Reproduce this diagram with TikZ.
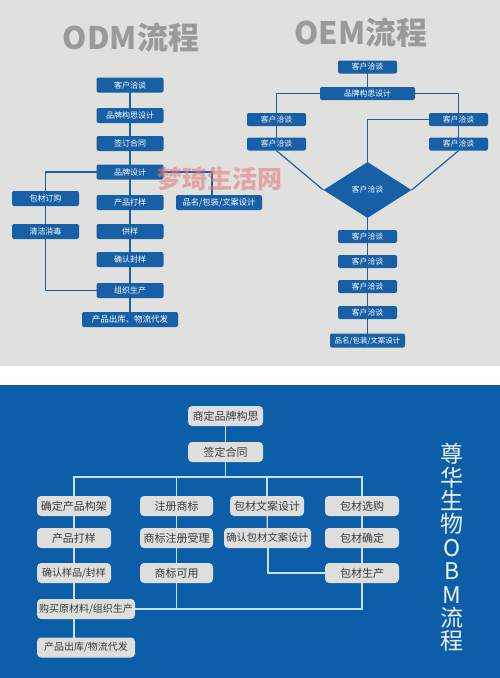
\documentclass[tikz,border=0pt]{standalone}
\usepackage{fontspec}
\setmainfont{Noto Sans CJK SC}
\usetikzlibrary{shapes.geometric}
\pgfdeclarelayer{bglayer}
\pgfdeclarelayer{lines}
\pgfdeclarelayer{wm}
\pgfsetlayers{bglayer,lines,main,wm}
\definecolor{bggray}{HTML}{E0E0DF}
\definecolor{nodeblue}{HTML}{1760A5}
\definecolor{lineblue}{HTML}{1E5FA0}
\definecolor{bgblue}{HTML}{0C5EA8}
\definecolor{boxgray}{HTML}{DEDEDD}
\definecolor{boxtext}{HTML}{3A3A3A}
\definecolor{wire}{HTML}{C4E2F6}
\definecolor{titlegray}{HTML}{9A9A9A}
\definecolor{wmred}{HTML}{E27E7E}
\tikzset{
  bnode/.style={fill=nodeblue, text=white, rounded corners=2pt, inner sep=0pt,
    minimum height=15pt, font=\fontsize{8}{8}\selectfont},
  enode/.style={bnode, minimum height=13pt, font=\fontsize{7.8}{8}\selectfont},
  gnode/.style={fill=boxgray, text=boxtext, rounded corners=4pt, inner sep=0pt,
    minimum height=20pt, font=\fontsize{11}{11}\selectfont},
  tline/.style={draw=lineblue, line width=1.2pt},
  wline/.style={draw=wire, line width=1.3pt},
  ttl/.style={text=titlegray, font=\fontsize{31}{31}\selectfont\bfseries}
}
\begin{document}
\begin{tikzpicture}[x=1pt,y=-1pt]
\useasboundingbox (0,0) rectangle (500,678);
\begin{pgfonlayer}{bglayer}
\fill[bggray] (0,0) rectangle (500,366);
\fill[white] (0,366) rectangle (500,385);
\fill[bgblue] (0,385) rectangle (500,678);
\end{pgfonlayer}

% ---------- ODM ----------
\node[ttl] (odmt) at (131,38) {ODM流程};
\node[bnode, minimum width=67pt] (o1) at (130,85) {客户洽谈};
\node[bnode, minimum width=67pt] (o2) at (130,115.5) {品牌构思设计};
\node[bnode, minimum width=67pt] (o3) at (130,143.5) {签订合同};
\node[bnode, minimum width=67pt] (o4) at (130,172) {品牌设计};
\node[bnode, minimum width=67pt] (pk) at (45.5,198.5) {包材订购};
\node[bnode, minimum width=67pt] (o5) at (130,202.5) {产品打样};
\node[bnode, minimum width=86pt, font=\fontsize{8.3}{8}\selectfont] (pm) at (219,202.5) {品名/包装/文案设计};
\node[bnode, minimum width=67pt] (cl) at (45.5,231.5) {清洁消毒};
\node[bnode, minimum width=67pt] (o6) at (130,231.5) {供样};
\node[bnode, minimum width=67pt] (o7) at (130,259.5) {确认封样};
\node[bnode, minimum width=67pt] (o8) at (130,290.5) {组织生产};
\node[bnode, minimum width=96pt, font=\fontsize{8.5}{8}\selectfont] (o9) at (130,319.5) {产品出库、物流代发};

% ---------- OEM ----------
\node[ttl] (oemt) at (361,33) {OEM流程};
\node[enode, minimum width=59pt] (e1) at (367.5,67) {客户洽谈};
\node[enode, minimum width=95pt] (e2) at (367.5,93.5) {品牌构思设计};
\node[enode, minimum width=59pt] (el1) at (276.5,119.5) {客户洽谈};
\node[enode, minimum width=59pt] (el2) at (276.5,144) {客户洽谈};
\node[enode, minimum width=59pt] (er1) at (458.5,119.5) {客户洽谈};
\node[enode, minimum width=59pt] (er2) at (458.5,144) {客户洽谈};
\node[diamond, fill=nodeblue, text=white, inner sep=0pt, aspect=1.57,
  minimum width=88pt, minimum height=56pt, font=\fontsize{7.8}{8}\selectfont] (dia) at (367.5,190) {客户洽谈};
\node[enode, minimum width=59pt] (e3) at (367.5,236.5) {客户洽谈};
\node[enode, minimum width=59pt] (e4) at (367.5,261.5) {客户洽谈};
\node[enode, minimum width=59pt] (e5) at (367.5,286.5) {客户洽谈};
\node[enode, minimum width=59pt] (e6) at (367.5,312.5) {客户洽谈};
\node[enode, minimum width=75pt, minimum height=14pt, font=\fontsize{7.5}{8}\selectfont] (e7) at (367.5,340.5) {品名/包装/文案设计};

% ---------- OBM ----------
\node[gnode, minimum width=75pt] (b1) at (225.5,416) {商定品牌构思};
\node[gnode, minimum width=75pt] (b2) at (225.5,452) {签定合同};
\coordinate (bus) at (225.5,477);
\node[gnode, minimum width=74pt] (a1) at (74,506) {确定产品构架};
\node[gnode, minimum width=74pt] (a2) at (74,538) {产品打样};
\node[gnode, minimum width=74pt, font=\fontsize{10}{10}\selectfont] (a3) at (74,573) {确认样品/封样};
\node[gnode, minimum width=98pt, font=\fontsize{10}{10}\selectfont] (a4) at (86,609) {购买原材料/组织生产};
\node[gnode, minimum width=98pt, font=\fontsize{10}{10}\selectfont] (a5) at (86,647.5) {产品出库/物流代发};
\node[gnode, minimum width=73pt] (c1) at (176.5,506) {注册商标};
\node[gnode, minimum width=73pt] (c2) at (176.5,538) {商标注册受理};
\node[gnode, minimum width=73pt] (c3) at (176.5,573) {商标可用};
\node[gnode, minimum width=74pt] (d1) at (267,506) {包材文案设计};
\node[gnode, minimum width=87pt, font=\fontsize{10.3}{10}\selectfont] (d2) at (267.5,538) {确认包材文案设计};
\node[gnode, minimum width=74pt] (f1) at (362,506) {包材选购};
\node[gnode, minimum width=74pt] (f2) at (362,538) {包材确定};
\node[gnode, minimum width=74pt] (f3) at (362,573) {包材生产};
\node[text=white!92!bgblue, align=center, inner sep=0pt,
  font=\fontsize{23}{23.4}\selectfont] (vt) at (452,547.5)
  {尊\\华\\生\\物\\O\\B\\M\\流\\程};

% ---------- connectors ----------
\begin{pgfonlayer}{lines}
% ODM
\draw[tline] (o1.center) -- (o9.center);
\draw[tline] (o4.center) -| (pk.center) -- (cl.center) |- (o8.center);
\draw[tline] (o4.center) -| ([xshift=-7pt]pm.center);
% OEM
\draw[tline] (e1.center) -- (e2.center);
\draw[tline] (e2.center) -| (el2.center);
\draw[tline] (e2.center) -| (er2.center);
\draw[tline] (er1.center) -| (dia.center);
\draw[tline] (el2.south) -- (dia.west);
\draw[tline] (er2.south) -- (dia.east);
\draw[tline] (dia.center) -- (e7.center);
% OBM
\draw[wline] (b1.center) -- (bus);
\draw[wline] (a1.north) |- (bus) -| (f1.north);
\draw[wline] (c1.north) -- (c1.north |- bus);
\draw[wline] (d1.north) -- (d1.north |- bus);
\draw[wline] (a1.center) -- (a1.center |- a5.center);
\draw[wline] (c1.center) -- (c3.center);
\draw[wline] (d1.center) -- (d2.center);
\draw[wline] ([xshift=0.5pt]d2.center) |- (f3.center);
\draw[wline] (f1.center) -- (f3.center);
\draw[wline] (c3.center) |- (a4.center);
\draw[wline] (f3.center) |- (a4.center);
\end{pgfonlayer}

% ---------- watermark ----------
\begin{pgfonlayer}{wm}
\node[text=wmred, opacity=0.6, font=\fontsize{25}{25}\selectfont\bfseries] (wmk) at (220,179) {梦琦生活网};
\end{pgfonlayer}
\end{tikzpicture}
\end{document}
